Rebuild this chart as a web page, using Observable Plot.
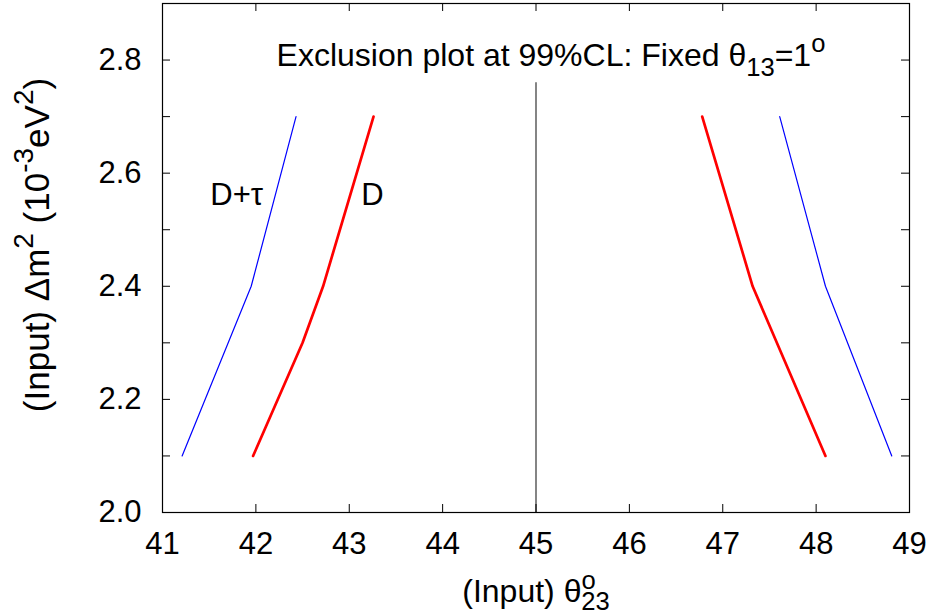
<!DOCTYPE html>
<html><head><meta charset="utf-8">
<script src="https://cdn.jsdelivr.net/npm/d3@7"></script>
<script src="https://cdn.jsdelivr.net/npm/@observablehq/plot@0.6"></script>
<style>
body{margin:0;background:#fff}
svg{font-family:"Liberation Sans",Arial,Helvetica,sans-serif}
</style>
</head><body><div id="chart"></div>
<script>
// ---- data ----
const dTauLeftTheta  = [41.21, 41.95, 42.43];
const dTauLeftDm2    = [2.1, 2.4, 2.7];
const dLeftTheta     = [41.97, 42.50, 42.72, 43.26];
const dLeftDm2       = [2.1, 2.3, 2.4, 2.7];
const dRightTheta    = [48.10, 47.32, 46.78];
const dRightDm2      = [2.1, 2.4, 2.7];
const dTauRightTheta = [48.81, 48.10, 47.61];
const dTauRightDm2   = [2.1, 2.4, 2.7];

const maxMixTheta = 45;
const maxMixDm2   = [2.0, 2.76];

const xTicks      = [41, 42, 43, 44, 45, 46, 47, 48, 49];
const yTicks      = [2.0, 2.1, 2.2, 2.3, 2.4, 2.5, 2.6, 2.7, 2.8, 2.9];
const yTickLabels = [2.0, 2.2, 2.4, 2.6, 2.8];

const labelText  = ["D+τ", "D"];
const labelTheta = [41.795, 43.247];
const labelDm2   = [2.562, 2.562];

const xDomain = [41, 49];
const yDomain = [2.0, 2.9];

// ---- build tables ----
const zip = (xs, ys) => xs.map((x, i) => ({x, y: ys[i]}));
const curveLabels = labelText.map((t, i) => ({t, x: labelTheta[i], y: labelDm2[i]}));

const W = 934, H = 616, mL = 162, mR = 25, mT = 3, mB = 104;
const innerH = H - mT - mB, innerW = W - mL - mR;
const FS = 31;

const plot = Plot.plot({
  width: W, height: H,
  marginLeft: mL, marginRight: mR, marginTop: mT, marginBottom: mB,
  style: {fontFamily: '"Liberation Sans",Arial,sans-serif', fontSize: FS + "px", color: "#000", background: "#fff"},
  x: {domain: xDomain, label: null},
  y: {domain: yDomain, label: null},
  marks: [
    Plot.ruleX([maxMixTheta], {x: d => d, y1: maxMixDm2[0], y2: maxMixDm2[1], stroke: "#333", strokeWidth: 1.2}),
    Plot.line(zip(dTauLeftTheta, dTauLeftDm2), {x: "x", y: "y", stroke: "#0000ff", strokeWidth: 1.2}),
    Plot.line(zip(dTauRightTheta, dTauRightDm2), {x: "x", y: "y", stroke: "#0000ff", strokeWidth: 1.2}),
    Plot.line(zip(dLeftTheta, dLeftDm2), {x: "x", y: "y", stroke: "#ff0000", strokeWidth: 2.7}),
    Plot.line(zip(dRightTheta, dRightDm2), {x: "x", y: "y", stroke: "#ff0000", strokeWidth: 2.7}),
    Plot.text(curveLabels, {x: "x", y: "y", text: "t", fontSize: FS, fill: "#000"}),
    // inward ticks
    Plot.ruleX(xTicks, {x: d => d, insetTop: innerH - 8, stroke: "#000", strokeWidth: 1}),
    Plot.ruleX(xTicks, {x: d => d, insetBottom: innerH - 8, stroke: "#000", strokeWidth: 1}),
    Plot.ruleY(yTicks, {y: d => d, insetRight: innerW - 8, stroke: "#000", strokeWidth: 1}),
    Plot.ruleY(yTicks, {y: d => d, insetLeft: innerW - 8, stroke: "#000", strokeWidth: 1}),
    Plot.axisX(xTicks, {tickSize: 0, tickPadding: 19, fontSize: FS, label: null, tickFormat: d => String(d)}),
    Plot.axisY(yTickLabels, {tickSize: 0, tickPadding: 21, fontSize: FS, label: null, tickFormat: d => d.toFixed(1)}),
    Plot.frame({stroke: "#000", strokeWidth: 1.2})
  ]
});
document.getElementById("chart").appendChild(plot);

// ---- rich text (sub/superscripts) ----
const svg = d3.select(plot);
function rich(g, parts, fs) {
  let cur = 0;
  for (const [s, k] of parts) {
    const target = k === "sub" ? 0.3 * fs : k === "sup" ? -0.45 * fs : 0;
    const ts = g.append("tspan").attr("dy", target - cur).text(s);
    if (k) ts.attr("font-size", fs * 0.8);
    cur = target;
  }
}
const TFS = 32;
const title = svg.append("text")
  .attr("x", 551).attr("y", 66).attr("text-anchor", "middle")
  .attr("font-size", TFS).attr("fill", "#000");
rich(title, [["Exclusion plot at 99%CL: Fixed θ", ""], ["13", "sub"], ["=1", ""], ["o", "sup"]], TFS);

const XFS = 32;
const xl = svg.append("text")
  .attr("x", 536).attr("y", 602).attr("text-anchor", "middle")
  .attr("font-size", XFS).attr("fill", "#000");
xl.append("tspan").text("(Input) θ");
xl.append("tspan").attr("dy", -0.42 * XFS).attr("font-size", XFS * 0.8).text("o");
xl.append("tspan").attr("dx", -0.45 * XFS).attr("dy", 0.68 * XFS).attr("font-size", XFS * 0.8).text("23");

const YFS = 35;
const yl = svg.append("text")
  .attr("transform", "translate(49,245) rotate(-90)")
  .attr("text-anchor", "middle")
  .attr("font-size", YFS).attr("fill", "#000");
rich(yl, [["(Input) Δm", ""], ["2", "sup"], [" (10", ""], ["-3", "sup"], ["eV", ""], ["2", "sup"], [")", ""]], YFS);
</script>
</body></html>
